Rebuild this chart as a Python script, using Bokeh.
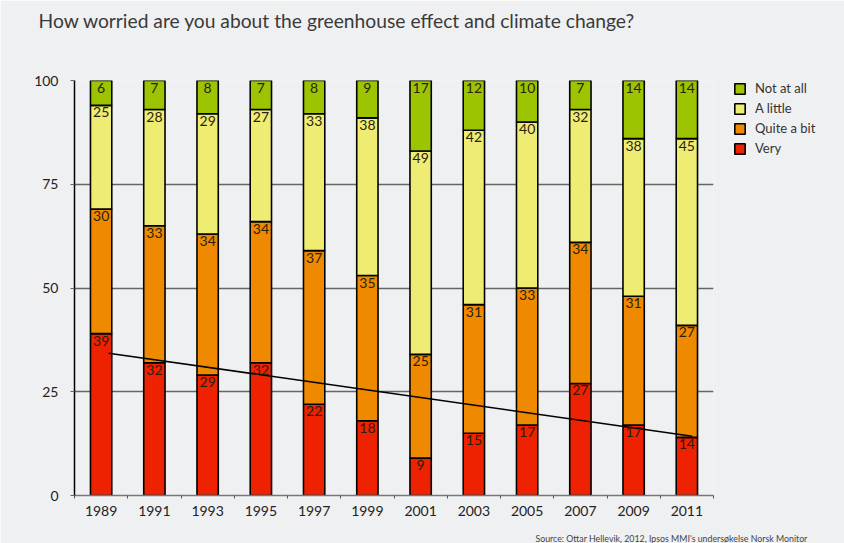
import numpy as np
from bokeh.plotting import figure
from bokeh.models import (ColumnDataSource, FixedTicker, Range1d, Title,
                          Legend, LegendItem)
from bokeh.embed import file_html
from bokeh.resources import INLINE
from bokeh.core.properties import value

# ---------------- data ----------------
years = ["1989", "1991", "1993", "1995", "1997", "1999",
         "2001", "2003", "2005", "2007", "2009", "2011"]
very = [39, 32, 29, 32, 22, 18, 9, 15, 17, 27, 17, 14]
quite_a_bit = [30, 33, 34, 34, 37, 35, 25, 31, 33, 34, 31, 27]
a_little = [25, 28, 29, 27, 33, 38, 49, 42, 40, 32, 38, 45]
not_at_all = [6, 7, 8, 7, 8, 9, 17, 12, 10, 7, 14, 14]
series_names = ["Very", "Quite a bit", "A little", "Not at all"]
y_ticks = [0, 25, 50, 75, 100]
trend_very = [34.3, 14.3]   # trend line for "Very", first and last year

title_text = "How worried are you about the greenhouse effect and climate change?"
source_text = "Source: Ottar Hellevik, 2012, Ipsos MMI's undersøkelse Norsk Monitor"

# ---------------- style ----------------
BG = "#eff0f2"
COLORS = ["#ee2200", "#ef8a00", "#eeec72", "#9dc400"]
FONT = "Lato"

n = len(years)
xc = np.arange(n) + 0.5
series_vals = [very, quite_a_bit, a_little, not_at_all]

src = ColumnDataSource(dict(x=xc, **{nm: v for nm, v in zip(series_names, series_vals)}))

p = figure(frame_width=639, frame_height=415, x_range=Range1d(0, n), y_range=Range1d(0, 100),
           output_backend="svg", toolbar_location=None,
           min_border_left=74, min_border_right=131, min_border_top=80,
           min_border_bottom=48, background_fill_color=BG, border_fill_color=BG,
           outline_line_color=None)

renderers = p.vbar_stack(series_names, x="x", width=0.4, source=src,
                         fill_color=COLORS, line_color="black", line_width=1.6)

# trend line
p.line(x=[xc[0] + 0.14, xc[-1] + 0.1], y=trend_very, line_color="black", line_width=1.5)

# segment labels at the top of each segment
cum = np.zeros(n)
for vals in series_vals:
    cum = cum + np.array(vals)
    lab_src = ColumnDataSource(dict(x=xc, y=cum, t=[str(v) for v in vals]))
    p.text(x="x", y="y", text="t", source=lab_src, text_align="center",
           text_baseline="top", y_offset=2, text_font=value(FONT),
           text_font_size="14px", text_color="#2a1f10")

# axes
p.xaxis.ticker = FixedTicker(ticks=list(xc), minor_ticks=list(range(n + 1)))
p.xaxis.major_label_overrides = {float(x): y for x, y in zip(xc, years)}
p.xaxis.major_tick_out = 0
p.xaxis.major_tick_in = 0
p.xaxis.minor_tick_out = 3
p.xaxis.minor_tick_in = 0
p.xaxis.minor_tick_line_color = "#555555"
p.xaxis.axis_line_color = "#777777"
p.xaxis.axis_line_width = 1.5
p.xaxis.major_label_standoff = 7

p.yaxis.ticker = FixedTicker(ticks=y_ticks)
p.yaxis.major_tick_out = 4
p.yaxis.major_tick_in = 0
p.yaxis.major_tick_line_color = "#666666"
p.yaxis.minor_tick_line_color = None
p.yaxis.axis_line_color = "black"
p.yaxis.axis_line_width = 1.5
p.yaxis.major_label_standoff = 12

for ax in (p.xaxis[0], p.yaxis[0]):
    ax.major_label_text_font = FONT
    ax.major_label_text_font_size = "14px"
    ax.major_label_text_color = "#222222"

p.xgrid.visible = False
p.ygrid.grid_line_color = "#666666"
p.ygrid.grid_line_width = 1.3

# legend (top item = Not at all), in the right panel
items = [LegendItem(label=nm, renderers=[r]) for nm, r in zip(series_names, renderers)][::-1]
legend = Legend(items=items, location=(20, 337), margin=0, padding=0, spacing=0,
                glyph_width=13, glyph_height=13, label_height=20, label_standoff=9,
                label_text_font=FONT, label_text_font_size="13px",
                label_text_color="#333333", border_line_color=None,
                background_fill_alpha=0)
p.add_layout(legend, "right")

# spacer titles (blank) to position the real title and the source line
def spacer(gap):
    return Title(text=" ", text_font_size="1px", standoff=gap, text_color=BG)

p.add_layout(spacer(46), "above")
p.add_layout(Title(text=title_text, align="left", offset=-36, standoff=0,
                   text_font=FONT, text_font_size="19.25px", text_color="#3a3a3a",
                   text_font_style="normal"), "above")

p.add_layout(spacer(9), "below")
p.add_layout(Title(text=source_text, align="right", offset=-94, standoff=0,
                   text_font=FONT, text_font_size="8.8px", text_color="#444444",
                   text_font_style="normal"), "below")

open("out.html", "w").write(file_html(p, INLINE))
